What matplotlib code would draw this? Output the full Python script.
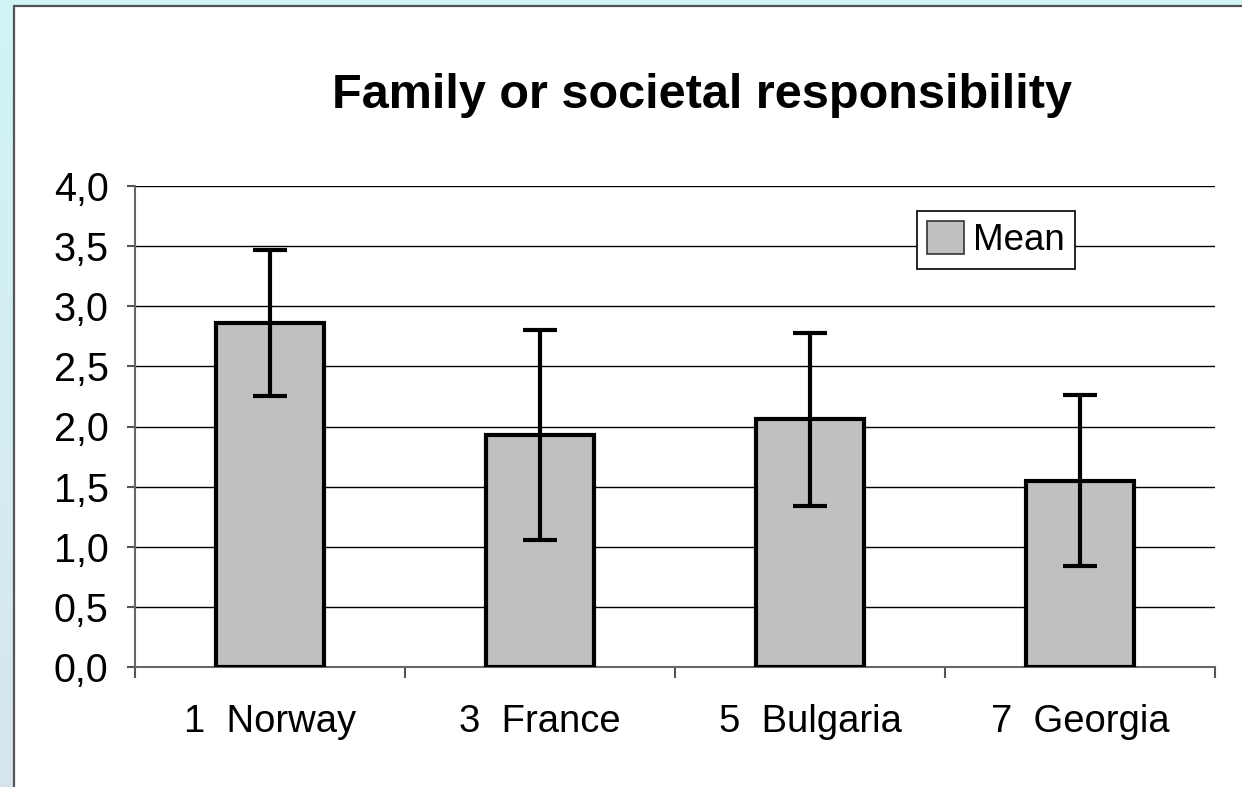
import numpy as np
import matplotlib
matplotlib.use("Agg")
import matplotlib.pyplot as plt
from matplotlib.patches import Rectangle

# data
countries = ["1  Norway", "3  France", "5  Bulgaria", "7  Georgia"]
means = [2.86, 1.93, 2.06, 1.55]
errs = [0.61, 0.87, 0.72, 0.71]
yticks = [0.0, 0.5, 1.0, 1.5, 2.0, 2.5, 3.0, 3.5, 4.0]
ytick_labels = ["0,0", "0,5", "1,0", "1,5", "2,0", "2,5", "3,0", "3,5", "4,0"]

plt.rcParams['font.family'] = ['Liberation Sans', 'DejaVu Sans']

W, H = 1242, 787
fig = plt.figure(figsize=(W / 100, H / 100), dpi=100)

# background: pale cyan gradient with a white panel on top
bg = fig.add_axes([0, 0, 1, 1], zorder=-10)
grad = np.linspace(0, 1, 256).reshape(-1, 1)
top_c = np.array([0.82, 0.96, 0.96])
bot_c = np.array([0.84, 0.90, 0.93])
img = top_c[None, None, :] * (1 - grad[:, :, None]) + bot_c[None, None, :] * grad[:, :, None]
bg.imshow(img, aspect='auto', extent=[0, 1, 0, 1])
bg.add_patch(Rectangle((13.5 / W, -0.1), 1.2, 1.1 - 6.5 / H, facecolor='white',
                       edgecolor='#555555', linewidth=1.6))
bg.set_xlim(0, 1)
bg.set_ylim(0, 1)
bg.axis('off')

ax = fig.add_axes([135 / W, 120 / H, 1080 / W, 481 / H])
x = np.arange(len(countries))
ax.bar(x, means, width=0.40, color='#c0c0c0', edgecolor='black', linewidth=3,
       label='Mean', zorder=3)
ax.errorbar(x, means, yerr=errs, fmt='none', ecolor='black', elinewidth=3,
            capsize=12, capthick=3, zorder=4)

ax.set_xlim(-0.5, 3.5)
ax.set_ylim(0, 4.0)
ax.set_yticks(yticks)
ax.set_yticklabels(ytick_labels, fontsize=28.5)
ax.yaxis.grid(True, color='black', linewidth=1.0, zorder=0)
ax.set_axisbelow(True)

ax.set_xticks(x)
ax.set_xticklabels(countries, fontsize=27.5)
ax.set_xticks(np.arange(-0.5, 4, 1), minor=True)
ax.tick_params(axis='x', which='major', length=0, pad=27)
ax.tick_params(axis='x', which='minor', length=8, width=1.5, color='#555555', direction='out')
ax.tick_params(axis='y', length=6, width=1.5, color='#555555', pad=13)

for s in ['top', 'right']:
    ax.spines[s].set_visible(False)
for s in ['left', 'bottom']:
    ax.spines[s].set_color('#666666')
    ax.spines[s].set_linewidth(1.5)
ax.set_facecolor('none')

leg = ax.legend(loc='upper left', bbox_to_anchor=(917 / W, 1 - 211 / H),
                bbox_transform=fig.transFigure, fontsize=26.5, frameon=True,
                fancybox=False, framealpha=1, edgecolor='black',
                handlelength=1.0, handleheight=1.0, handletextpad=0.25,
                borderpad=0.28, borderaxespad=0)
leg.get_frame().set_linewidth(1.2)
for h in leg.legend_handles:
    h.set_linewidth(1.2)
    h.set_edgecolor('#333333')

fig.text(702 / W, 1 - 108 / H, "Family or societal responsibility", fontsize=35,
         fontweight='bold', ha='center', va='baseline')

fig.savefig("out.png", dpi=100)
